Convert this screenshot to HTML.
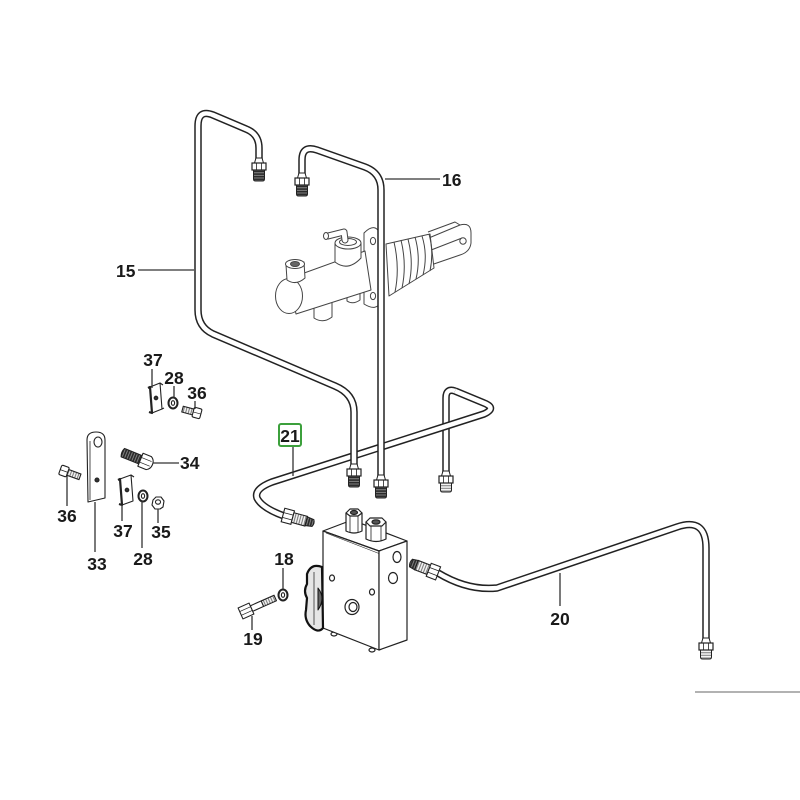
<!DOCTYPE html>
<html><head><meta charset="utf-8"><style>
html,body{margin:0;padding:0;background:#fff;}
svg{display:block;}
text{font-family:"Liberation Sans",sans-serif;font-weight:bold;font-size:17.5px;fill:#1a1a1a;}
</style></head><body>
<svg width="800" height="800" viewBox="0 0 800 800" xmlns="http://www.w3.org/2000/svg">
<defs>
<pattern id="thr" width="20" height="2.6" patternUnits="userSpaceOnUse"><rect width="20" height="2.6" fill="#2a2a2a"/><rect y="1.6" width="20" height="0.8" fill="#999"/></pattern>
<pattern id="thrL" width="20" height="2.6" patternUnits="userSpaceOnUse"><rect width="20" height="2.6" fill="#f4f4f4"/><rect y="1.5" width="20" height="0.9" fill="#777"/></pattern>
<pattern id="thrV" width="2.6" height="20" patternUnits="userSpaceOnUse"><rect width="2.6" height="20" fill="#2a2a2a"/><rect x="1.6" width="0.8" height="20" fill="#999"/></pattern>
<pattern id="thrVL" width="2.6" height="20" patternUnits="userSpaceOnUse"><rect width="2.6" height="20" fill="#f4f4f4"/><rect x="1.5" width="0.9" height="20" fill="#666"/></pattern>
<g id="fitD">
  <path d="M-3,-5 L3,-5 L4.5,0 L-4.5,0 Z" fill="#fff" stroke="#222" stroke-width="1"/>
  <rect x="-7" y="0" width="14" height="7" fill="#fff" stroke="#222" stroke-width="1.2"/>
  <line x1="-2.5" y1="0" x2="-2.5" y2="7" stroke="#222" stroke-width="0.8"/>
  <line x1="2.5" y1="0" x2="2.5" y2="7" stroke="#222" stroke-width="0.8"/>
  <path d="M-5.5,7 L5.5,7 L5.5,16 Q5.5,18 3.5,18 L-3.5,18 Q-5.5,18 -5.5,16 Z" fill="url(#thr)" stroke="#222" stroke-width="1"/>
</g>
<g id="fitL">
  <path d="M-3,-5 L3,-5 L4.5,0 L-4.5,0 Z" fill="#fff" stroke="#222" stroke-width="1"/>
  <rect x="-7" y="0" width="14" height="7" fill="#fff" stroke="#222" stroke-width="1.2"/>
  <line x1="-2.5" y1="0" x2="-2.5" y2="7" stroke="#222" stroke-width="0.8"/>
  <line x1="2.5" y1="0" x2="2.5" y2="7" stroke="#222" stroke-width="0.8"/>
  <path d="M-5.5,7 L5.5,7 L5.5,14 Q5.5,16 3.5,16 L-3.5,16 Q-5.5,16 -5.5,14 Z" fill="url(#thrL)" stroke="#222" stroke-width="1"/>
</g>
</defs>

<!-- ============ MASTER CYLINDER ============ -->
<g stroke="#444" stroke-width="1" fill="#fff" stroke-linejoin="round">
  <!-- clevis -->
  <path d="M424,240 L460,225 Q471,222 471,233 L471,243 Q470,252 460,255 L428,266 Z"/>
  <path d="M426,252 L462,238" fill="none"/>
  <path d="M428,232 L455,222 L460,225" fill="none"/>
  <circle cx="463" cy="241" r="3.2"/>
  <!-- bellows -->
  <path d="M386,244 L430,234 L434,268 L389,296 Z"/>
  <path d="M394,242 Q400,268 395,292" fill="none"/>
  <path d="M401,240 Q407,265 402,288" fill="none"/>
  <path d="M408,239 Q414,262 409,284" fill="none"/>
  <path d="M415,237 Q421,258 416,279" fill="none"/>
  <path d="M422,236 Q428,255 423,275" fill="none"/>
  <path d="M429,234 Q434,252 430,271" fill="none"/>
  <!-- flange -->
  <path d="M364,233 Q376,221 381,236 L381,301 Q377,312 364,304 Z"/>
  <ellipse cx="373" cy="241" rx="2.6" ry="3.6"/>
  <ellipse cx="373" cy="296" rx="2.6" ry="3.6"/>
  <!-- bottom outlets -->
  <path d="M314,303 L314,318 Q323,324 332,317 L332,300 Z"/>
  <path d="M347,294 L347,301 Q353,305 360,300 L360,292 Z"/>
  <!-- body -->
  <path d="M289,278.5 L365,251 L371,290 L296,314 Z"/>
  <ellipse cx="289" cy="296" rx="13.5" ry="17.5"/>
  <!-- top port -->
  <path d="M286,265 L287,280 Q296,286 305,278 L304,262 Z"/>
  <ellipse cx="295" cy="264" rx="9.5" ry="4.5"/>
  <ellipse cx="295" cy="264" rx="4.5" ry="2.5" fill="#666"/>
  <!-- reservoir boss -->
  <path d="M335,243 L335,262 Q348,272 361,258 L361,243 Z"/>
  <ellipse cx="348" cy="243" rx="13" ry="6"/>
  <ellipse cx="348" cy="242" rx="8.5" ry="3.5"/>
  <path d="M345,240 L344,232 L328,236" fill="none" stroke="#444" stroke-width="7" stroke-linecap="round"/>
  <path d="M345,240 L344,232 L328,236" fill="none" stroke="#fff" stroke-width="5" stroke-linecap="round"/>
  <ellipse cx="326" cy="236" rx="2.5" ry="3.5"/>
</g>

<!-- ============ PIPES ============ -->
<g fill="none" stroke-linecap="butt" stroke-linejoin="round">
  <!-- pipe 21 vertical part -->
  <path d="M455,391 Q446,388 446,398 L446,476" stroke="#222" stroke-width="7.5"/>
  <path d="M455,391 Q446,388 446,398 L446,476" stroke="#fff" stroke-width="4.5"/>
  <!-- pipe 21 main -->
  <path d="M284,516 Q262,508 257,498 Q254,489 272,482 L484,414 Q497,408 484,403 L455,391" stroke="#222" stroke-width="7.5"/>
  <path d="M284,516 Q262,508 257,498 Q254,489 272,482 L484,414 Q497,408 484,403 L455,391" stroke="#fff" stroke-width="4.5"/>
  <!-- pipe 15 -->
  <path d="M259,163 L259,148 Q259,134 246,129 L213,115 Q198,109 198,126 L198,310 Q198,327 213,334 L335,386 Q354,394 354,412 L354,469" stroke="#222" stroke-width="7.5"/>
  <path d="M259,163 L259,148 Q259,134 246,129 L213,115 Q198,109 198,126 L198,310 Q198,327 213,334 L335,386 Q354,394 354,412 L354,469" stroke="#fff" stroke-width="4.5"/>
  <!-- pipe 16 -->
  <path d="M302,178 L302,160 Q302,145 317,150 L365,167 Q381,173 381,190 L381,479" stroke="#222" stroke-width="7.5"/>
  <path d="M302,178 L302,160 Q302,145 317,150 L365,167 Q381,173 381,190 L381,479" stroke="#fff" stroke-width="4.5"/>
  <!-- pipe 20 -->
  <path d="M438,573 Q468,591 497,588 L677,527 Q706,517 706,548 L706,643" stroke="#222" stroke-width="7.5"/>
  <path d="M438,573 Q468,591 497,588 L677,527 Q706,517 706,548 L706,643" stroke="#fff" stroke-width="4.5"/>
</g>

<!-- pipe end fittings -->
<use href="#fitD" x="259" y="163"/>
<use href="#fitD" x="302" y="178"/>
<use href="#fitD" x="354" y="469"/>
<use href="#fitD" x="381" y="480"/>
<use href="#fitL" x="446" y="476"/>
<use href="#fitL" x="706" y="643"/>

<!-- fitting 21 (male, pointing right) -->
<g transform="translate(283,515) rotate(15)" stroke="#222" stroke-width="1.1">
  <rect x="0" y="-7" width="10" height="14" fill="#fff"/>
  <line x1="0" y1="-2.5" x2="10" y2="-2.5" stroke-width="0.8"/>
  <line x1="0" y1="2.5" x2="10" y2="2.5" stroke-width="0.8"/>
  <rect x="10" y="-5" width="14" height="10" fill="url(#thrVL)"/>
  <path d="M24,-4.5 L31,-3.5 Q33,0 31,3.5 L24,4.5 Z" fill="url(#thrV)"/>
</g>

<!-- ============ VALVE BLOCK ============ -->
<g stroke="#222" stroke-width="1.2" fill="#fff" stroke-linejoin="round">
  <!-- bottom little studs -->
  <ellipse cx="334" cy="634" rx="3" ry="2" />
  <ellipse cx="372" cy="650" rx="3" ry="2" />
  <!-- faces -->
  <path d="M323,531 L352,520 L407,541 L379,551 Z"/>
  <path d="M323,531 L379,551 L379,650 L323,628 Z"/>
  <path d="M379,551 L407,541 L407,640 L379,650 Z"/>
  <path d="M326,533 L379,553.5" fill="none" stroke-width="0.6"/>
  <!-- top fittings -->
  <path d="M346,513 L346,531 Q354,535 362,531 L362,513 Z"/>
  <line x1="350" y1="514" x2="350" y2="533" stroke-width="0.8"/>
  <line x1="358" y1="514" x2="358" y2="533" stroke-width="0.8"/>
  <path d="M346,513 L350,509 L358,509 L362,513 L358,516 L350,516 Z"/>
  <ellipse cx="354" cy="512.5" rx="3.5" ry="2" fill="#555"/>
  <path d="M366,522 L366,539 Q376,544 386,539 L386,522 Z"/>
  <line x1="371" y1="523" x2="371" y2="541" stroke-width="0.8"/>
  <line x1="381" y1="523" x2="381" y2="541" stroke-width="0.8"/>
  <path d="M366,522 L370,518 L382,518 L386,522 L382,526 L370,526 Z"/>
  <ellipse cx="376" cy="522" rx="4" ry="2.2" fill="#555"/>
  <!-- holes -->
  <ellipse cx="397" cy="557" rx="4" ry="5.5"/>
  <ellipse cx="393" cy="578" rx="4.5" ry="5.5"/>
  <ellipse cx="332" cy="578" rx="2.5" ry="3"/>
  <ellipse cx="372" cy="592" rx="2.5" ry="3"/>
  <ellipse cx="352" cy="607" rx="7" ry="7.5"/>
  <ellipse cx="353" cy="607" rx="4" ry="4.5"/>
  <!-- knob -->
  <path d="M322,567 Q311,563 307,574 L307,584 Q303,591 307,598 L306,610 Q304,619 310,626 Q318,634 323,628 Z" fill="#e6e6e6" stroke="#111" stroke-width="2.2"/>
  <path d="M314,572 L314,625" fill="none" stroke="#555" stroke-width="1"/>
  <path d="M318,588 Q326,598 318,610 Z" fill="#666" stroke="#111" stroke-width="1"/>
</g>

<!-- fitting on right of block (for 20) -->
<g transform="translate(411,563) rotate(21)" stroke="#222" stroke-width="1.1">
  <path d="M0,-4 L6,-5 L6,5 L0,4 Q-2,0 0,-4 Z" fill="url(#thrV)"/>
  <rect x="6" y="-5" width="13" height="10" fill="url(#thrVL)"/>
  <rect x="19" y="-7" width="10" height="14" fill="#fff"/>
  <line x1="19" y1="-2.5" x2="29" y2="-2.5" stroke-width="0.8"/>
  <line x1="19" y1="2.5" x2="29" y2="2.5" stroke-width="0.8"/>
</g>

<!-- ============ SMALL PARTS ============ -->
<g stroke="#222" stroke-width="1.1" fill="#fff" stroke-linejoin="round">
  <!-- clip 37 top -->
  <path d="M150,387 L160,383 L162,409 L152,413 Z"/>
  <path d="M148,388 L150,387 L152,413 L149,412" fill="none" stroke-width="2.2"/>
  <path d="M160,383 L163,385 M162,409 L164,408" fill="none"/>
  <circle cx="156" cy="398" r="1.8" fill="#333"/>
  <!-- washer 28 top -->
  <ellipse cx="173" cy="403" rx="4.5" ry="5.5" stroke-width="2"/>
  <ellipse cx="173" cy="403" rx="1.6" ry="2.3" fill="#fff"/>
  <!-- bolt 36 top -->
  <g transform="translate(197,413) rotate(15)">
    <rect x="-15" y="-3" width="12" height="6" fill="url(#thrVL)"/>
    <rect x="-4" y="-5" width="8" height="10" rx="1.5"/>
    <line x1="-4" y1="0" x2="4" y2="0" stroke-width="0.7"/>
  </g>
  <!-- plate 33 -->
  <path d="M87,440 Q87,432 96,432 Q105,432 105,440 L105,498 L88,502 Z"/>
  <path d="M90,441 L90,500" fill="none" stroke-width="0.8"/>
  <ellipse cx="98" cy="442" rx="4" ry="5"/>
  <circle cx="97" cy="480" r="2" fill="#333"/>
  <!-- bolt 34 -->
  <g transform="translate(146,462) rotate(22)">
    <path d="M-25,-4.5 L-6,-4.5 L-6,4.5 L-25,4.5 Q-27,0 -25,-4.5 Z" fill="url(#thrV)"/>
    <path d="M-6,-7 L3,-7 Q7,-5 7,0 Q7,5 3,7 L-6,7 Z"/>
    <line x1="-6" y1="-2.5" x2="5" y2="-2.5" stroke-width="0.7"/>
    <line x1="-6" y1="2.5" x2="5" y2="2.5" stroke-width="0.7"/>
  </g>
  <!-- bolt 36 left -->
  <g transform="translate(64,471) rotate(20)">
    <rect x="-4" y="-5" width="8" height="10" rx="1.5"/>
    <line x1="-4" y1="0" x2="4" y2="0" stroke-width="0.7"/>
    <rect x="4" y="-3" width="13" height="6" fill="url(#thrVL)"/>
  </g>
  <!-- clip 37 lower -->
  <path d="M120,479 L131,475 L133,501 L122,505 Z"/>
  <path d="M118,480 L120,479 L122,505 L119,504" fill="none" stroke-width="2.2"/>
  <path d="M131,475 L134,477" fill="none"/>
  <circle cx="127" cy="490" r="1.8" fill="#333"/>
  <!-- washer 28 lower -->
  <ellipse cx="143" cy="496" rx="4.5" ry="5.5" stroke-width="2"/>
  <ellipse cx="143" cy="496" rx="1.6" ry="2.3" fill="#fff"/>
  <!-- nut 35 -->
  <path d="M153,500 L156,497 L161,497 L164,501 L163,507 L160,509 L155,509 L152,505 Z"/>
  <ellipse cx="158" cy="502" rx="2.5" ry="2.2"/>
  <!-- washer 18 -->
  <ellipse cx="283" cy="595" rx="4.5" ry="5.5" stroke-width="2"/>
  <ellipse cx="283" cy="595" rx="1.6" ry="2.3" fill="#fff"/>
  <!-- bolt 19 -->
  <g transform="translate(246,611) rotate(-24)">
    <rect x="6" y="-3" width="12" height="6"/>
    <rect x="18" y="-3" width="14" height="6" fill="url(#thrVL)"/>
    <path d="M-6,-6 L6,-6 L6,6 L-6,6 Z"/>
    <line x1="-6" y1="-2" x2="6" y2="-2" stroke-width="0.7"/>
    <line x1="-6" y1="2" x2="6" y2="2" stroke-width="0.7"/>
  </g>
</g>

<!-- ============ LEADERS ============ -->
<g stroke="#333" stroke-width="1.3" fill="none">
  <line x1="138" y1="270" x2="194" y2="270"/>
  <line x1="385" y1="179" x2="440" y2="179"/>
  <line x1="152" y1="369" x2="152" y2="388"/>
  <line x1="174" y1="386" x2="174" y2="398"/>
  <line x1="195" y1="401" x2="195" y2="409"/>
  <line x1="153" y1="463" x2="179" y2="463"/>
  <line x1="67" y1="476" x2="67" y2="506"/>
  <line x1="95" y1="502" x2="95" y2="552"/>
  <line x1="122" y1="505" x2="122" y2="521"/>
  <line x1="142" y1="501" x2="142" y2="548"/>
  <line x1="158" y1="509" x2="158" y2="523"/>
  <line x1="293" y1="447" x2="293" y2="476"/>
  <line x1="283" y1="568" x2="283" y2="589"/>
  <line x1="252" y1="616" x2="252" y2="630"/>
  <line x1="560" y1="573" x2="560" y2="606"/>
</g>

<!-- ============ LABELS ============ -->
<text x="116" y="277">15</text>
<text x="442" y="186">16</text>
<text x="153" y="366" text-anchor="middle">37</text>
<text x="174" y="384" text-anchor="middle">28</text>
<text x="197" y="399" text-anchor="middle">36</text>
<text x="180" y="469">34</text>
<text x="67" y="522" text-anchor="middle">36</text>
<text x="123" y="537" text-anchor="middle">37</text>
<text x="161" y="538" text-anchor="middle">35</text>
<text x="97" y="570" text-anchor="middle">33</text>
<text x="143" y="565" text-anchor="middle">28</text>
<text x="284" y="565" text-anchor="middle">18</text>
<text x="253" y="645" text-anchor="middle">19</text>
<text x="560" y="625" text-anchor="middle">20</text>
<rect x="279" y="424" width="22" height="22" rx="2" fill="none" stroke="#3ca03c" stroke-width="2"/>
<text x="290" y="442" text-anchor="middle">21</text>

<!-- bottom rule -->
<line x1="695" y1="692" x2="800" y2="692" stroke="#666" stroke-width="1"/>
</svg>
</body></html>
